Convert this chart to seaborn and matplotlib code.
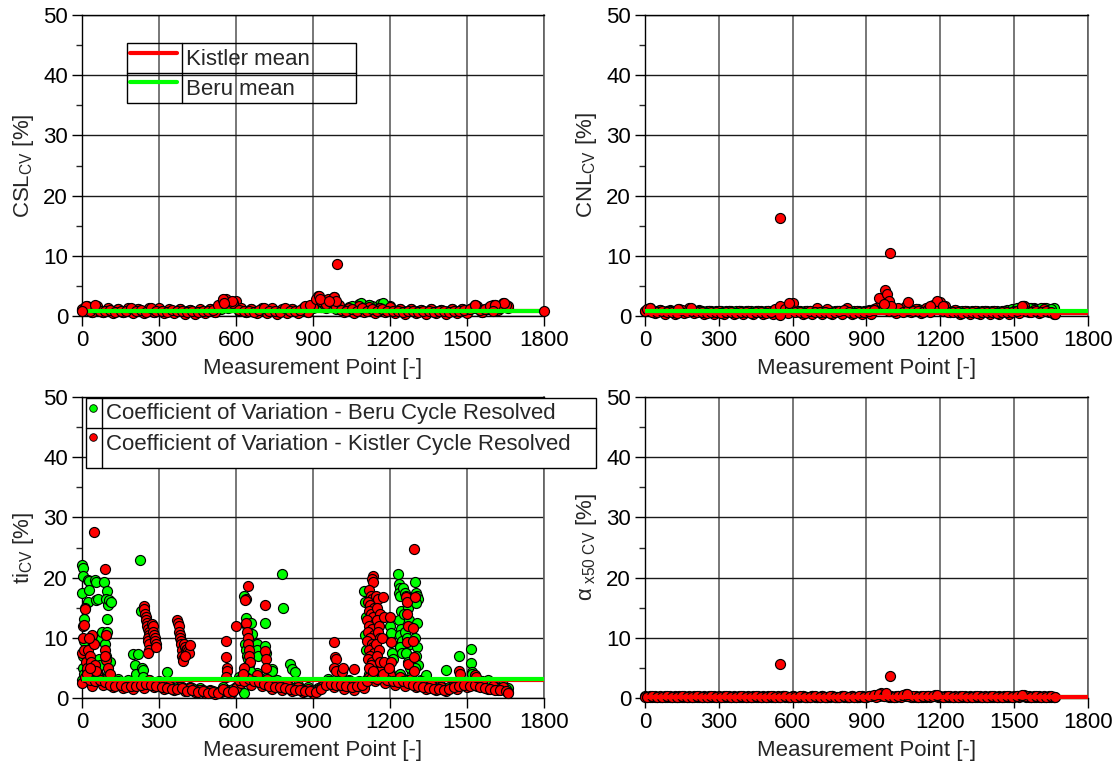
import numpy as np
import matplotlib
matplotlib.use("Agg")
import matplotlib.pyplot as plt
import seaborn as sns
from matplotlib.ticker import MultipleLocator
from matplotlib.patches import Rectangle
from matplotlib.lines import Line2D

sns.set_style("white")
plt.rcParams["font.family"] = ["Liberation Sans", "DejaVu Sans"]
plt.rcParams["mathtext.fontset"] = "custom"
plt.rcParams["mathtext.rm"] = "Liberation Sans"
plt.rcParams["mathtext.it"] = "Liberation Sans:italic"
plt.rcParams["mathtext.bf"] = "Liberation Sans:bold"

# ---------------- data ----------------
band_points = np.arange(0, 1661, 20)          # measurement points 0,20,...,1660
band_points2 = np.arange(10, 1661, 20)        # measurement points 10,30,...,1650
mean_x = [0, 1800]

# CSL_CV
csl_kistler_band = [1.2,1.7,0.6,1.6, 0.6,1.3,0.5,1.2,0.6,1.3,0.5,
    1.1,0.5,1.3,0.6,1.3,0.5,1.1,0.5,1.2,0.4, 1.0,0.4,1.1,0.5,1.2,0.6,1.5,
    2.8,2.2,2.5, 1.3,0.6,1.2,0.5,1.3, 0.5,1.3,0.4,1.1,0.5,1.2,0.5,1.4,0.6,
    1.5,3.3,2.2,2.8,3.1,1.9, 0.6,1.4,0.5,1.6,0.6,1.5,0.5,1.4,0.6,1.5,
    0.5,1.2,0.4,1.1,0.5,1.0,0.4,1.1,0.5,1.0, 0.4,1.1,0.5,1.2,0.5,1.3,1.6,0.6,
    1.3,1.9,1.0,2.2,1.6]
csl_kistler_band2 = [1.5,0.9,1.4, 0.9,0.8,1.0,0.7,0.9,0.8,1.4,
    0.8,1.0,0.7,1.3,0.8,0.9,0.7,1.0,0.8,0.9, 0.7,0.9,0.6,0.8,0.9,1.0,1.8,
    2.6,2.0,2.2, 1.0,0.8,0.9,0.7,1.0, 1.3,0.8,0.9,0.7,1.4,0.8,0.9,1.0,1.6,
    1.8,2.8,2.5,2.0,2.4,1.5, 1.0,0.9,1.2,0.8,1.3,0.9,1.1,0.8,1.2,0.9,
    0.8,0.9,0.7,0.8,0.9,0.7,0.8,0.9,0.7,0.8, 0.9,0.7,0.8,0.9,1.0,1.2,1.8,1.0,
    1.1,1.6,1.8,1.4,1.9]
csl_beru_band = [1.0,1.4,0.6,1.3, 0.7,1.2,0.6,1.1,0.7,1.2,0.6,
    1.1,0.6,1.2,0.7,1.1,0.6,1.0,0.6,1.1,0.5, 1.0,0.5,1.0,0.6,1.1,0.7,1.2,
    1.8,1.5,1.6, 1.2,0.7,1.1,0.6,1.2, 0.6,1.2,0.5,1.0,0.6,1.1,0.6,1.2,0.7,
    1.3,1.8,1.5,1.7,1.6,1.4, 0.8,1.5,0.9,2.0,1.0,1.8,1.1,2.0,0.9,1.6,
    0.6,1.2,0.6,1.1,0.6,1.0,0.5,1.1,0.6,1.0, 0.5,1.1,0.6,1.2,0.6,1.3,1.5,0.7,
    1.2,1.6,1.1,1.8,1.4]
csl_beru_band2 = [1.2,0.8,1.1, 0.9,0.8,0.9,0.8,0.9,0.8,1.0,
    0.8,0.9,0.8,1.0,0.8,0.9,0.8,0.9,0.8,0.9, 0.8,0.9,0.7,0.8,0.9,0.9,1.4,
    1.6,1.4,1.5, 0.9,0.8,0.9,0.8,0.9, 1.0,0.8,0.9,0.8,1.0,0.8,0.9,0.9,1.2,
    1.4,1.6,1.5,1.4,1.5,1.2, 1.2,1.0,1.6,1.2,1.9,1.3,1.7,1.2,1.8,1.1,
    0.9,0.8,0.9,0.8,0.9,0.8,0.9,0.8,0.9,0.8, 0.9,0.8,0.9,0.8,1.0,1.1,1.4,1.0,
    1.1,1.4,1.5,1.3,1.5]
csl_kistler_extra_x = [992, 550, 585, 554, 924, 927, 982, 989, 962, 14, 49, 1645, 1610, 1603, 1533]
csl_kistler_extra_y = [8.6, 2.8, 2.5, 2.2, 3.4, 2.8, 3.1, 2.5, 2.5, 1.7, 1.8, 2.2, 1.9, 0.8, 1.8]
csl_beru_extra_x = [1087, 1171, 1120]
csl_beru_extra_y = [2.1, 2.1, 1.9]
csl_means = {"Kistler": 0.85, "Beru": 0.85}

# CNL_CV
cnl_kistler_band = [0.8,1.4,0.5,1.0, 0.4,0.9,0.4,1.2,0.5,1.3,0.5,
    0.9,0.4,0.8,0.3,0.9,0.4,0.8,0.3,0.9,0.4, 0.8,0.3,0.9,0.4,0.8,0.3,1.0,
    1.3,0.5,2.1, 0.9,0.4,0.8,0.4,1.3, 0.4,1.1,0.3,0.8,0.4,1.3,0.4,0.9,0.3,
    0.8,0.3,1.4,2.4,1.8,1.2, 0.5,1.0,1.6,0.6,1.2,0.5,1.3,0.6,1.4,2.3,
    1.6,0.6,1.0,0.4,0.8,0.3,0.8,0.3,0.9,0.4, 0.8,0.3,0.8,0.4,0.9,0.5,1.6,0.6,
    1.0,0.5,1.1,0.6,0.4]
cnl_kistler_band2 = [1.1,0.7,0.6, 0.8,0.6,0.7,0.5,1.0,0.6,0.8,
    0.6,0.7,0.5,0.6,0.7,0.5,0.6,0.7,0.5,0.6, 0.6,0.5,0.7,0.6,0.5,0.7,1.1,
    1.6,1.2,1.4, 0.6,0.7,0.5,0.8,0.6, 0.7,0.6,0.5,0.6,0.8,1.0,0.6,0.5,0.6,
    0.6,0.8,1.0,3.0,1.3,0.8, 0.8,1.3,0.7,1.0,0.8,0.9,0.7,1.1,1.9,1.3,
    0.8,0.7,0.6,0.7,0.5,0.6,0.7,0.5,0.6,0.7, 0.6,0.5,0.7,0.6,0.7,0.8,1.2,0.8,
    0.7,0.8,0.7,0.9,0.7]
cnl_beru_band = [0.9,1.2,0.7,1.0, 0.6,1.0,0.6,1.0,0.6,1.0,0.6,
    1.0,0.6,0.9,0.5,0.9,0.6,0.9,0.5,0.9,0.6, 0.9,0.5,0.9,0.6,0.9,0.5,1.0,
    1.0,0.7,1.1, 0.9,0.6,0.9,0.6,1.0, 0.6,1.0,0.5,0.9,0.6,1.0,0.6,0.9,0.5,
    0.9,1.0,1.2,1.3,1.2,1.0, 0.7,1.1,1.2,0.8,1.1,0.7,1.1,0.8,1.2,1.3,
    1.1,0.7,1.0,0.6,0.9,0.5,0.9,0.5,0.9,0.6, 0.9,0.5,0.9,0.6,1.0,0.8,1.7,1.2,
    1.3,1.1,1.4,1.2,1.3]
cnl_beru_band2 = [1.0,0.9,0.8, 0.8,0.8,0.9,0.8,0.8,0.9,0.8,
    0.8,0.9,0.8,0.8,0.9,0.8,0.8,0.9,0.8,0.8, 0.8,0.9,0.8,0.8,0.9,0.8,0.9,
    0.9,0.8,0.9, 0.8,0.9,0.8,0.8,0.9, 0.8,0.9,0.8,0.8,0.9,0.8,0.8,0.9,0.8,
    0.9,1.0,1.1,1.2,1.1,1.0, 1.0,1.2,1.0,1.1,1.0,1.2,1.0,1.1,1.2,1.1,
    0.9,0.8,0.9,0.8,0.8,0.9,0.8,0.8,0.9,0.8, 0.9,0.8,0.9,1.0,1.1,1.3,1.5,1.3,
    1.4,1.2,1.3,1.4,1.2]
cnl_kistler_extra_x = [548, 994, 548, 977, 983, 991, 1001, 1067, 1187, 1211, 587, 22, 133, 187, 1665, 970, 1533, 1158]
cnl_kistler_extra_y = [16.3, 10.4, 0.2, 4.4, 3.7, 2.5, 1.7, 2.4, 2.5, 1.7, 2.1, 1.4, 1.2, 1.3, 0.3, 2.0, 1.7, 1.7]
cnl_beru_extra_x = [1535, 1560]
cnl_beru_extra_y = [1.6, 1.4]
cnl_means = {"Kistler": 0.5, "Beru": 0.75}

# ti_CV
ti_kistler_band = [2.5,4.5,2.0,3.8, 2.2,3.5,1.8,2.8,1.6,2.5,1.5,
    2.6,1.6,3.0,1.8,2.8,1.5,2.0,1.3,1.8,1.2, 1.6,1.0,1.4,0.8,1.2,0.7,1.0,
    1.2,0.8,1.6, 2.5,3.5,2.2,3.8,2.0, 3.2,1.5,2.5,1.3,2.2,1.2,1.8,1.0,1.5,
    0.9,1.3,2.0,2.8,1.8,3.0, 1.5,2.8,1.3,2.5,1.6,3.5,2.8,4.5,2.5,3.8,
    2.2,3.5,2.0,3.2,1.8,2.8,1.5,2.2,1.3,1.8, 1.2,1.8,1.5,2.4,1.8,2.6,2.0,2.5,
    1.5,2.0,1.3,1.8,1.0]
ti_kistler_band2 = [3.5,3.0,2.8, 3.0,2.6,2.2,2.0,2.2,1.8,2.0,
    2.0,2.2,2.4,2.2,2.0,1.8,1.6,1.5,1.5,1.6, 1.2,1.3,1.0,1.1,0.9,1.0,0.8,
    1.5,1.0,1.2, 3.0,2.8,3.2,2.8,2.6, 2.4,2.0,1.8,1.8,1.6,1.5,1.4,1.3,1.2,
    1.1,1.0,1.5,2.2,2.4,2.2, 2.2,2.0,1.8,2.0,2.2,2.8,3.5,3.2,3.6,3.0,
    2.8,2.6,2.8,2.5,2.2,2.0,1.8,1.6,1.5,1.5, 1.4,1.5,1.8,2.0,2.2,2.0,2.2,1.8,
    1.6,1.5,1.4,1.3,1.2]
ti_beru_band = [3.0,5.0,2.5,4.5, 2.8,4.0,2.2,3.2,2.0,3.0,2.2,
    3.5,2.0,3.0,2.0,2.5,1.8,2.2,1.5,2.0,1.5, 1.8,1.2,1.6,1.0,1.4,0.9,1.2,
    1.4,1.0,1.8, 3.0,4.0,2.8,4.2,2.5, 3.5,2.0,3.0,1.8,2.5,1.6,2.2,1.3,1.8,
    1.2,1.6,2.4,3.2,2.2,3.2, 1.8,3.0,1.6,2.8,2.0,4.0,3.2,5.0,3.0,4.2,
    2.8,4.0,2.6,3.6,2.2,3.0,1.8,2.5,1.6,2.0, 1.5,2.2,1.8,2.8,2.0,3.0,2.4,2.8,
    1.8,2.4,1.6,2.2,1.6]
ti_beru_band2 = [4.0,3.5,3.2, 3.4,3.0,2.6,2.4,2.5,2.2,2.6,
    2.5,2.8,3.0,2.6,2.4,2.2,2.0,1.8,1.8,1.9, 1.5,1.6,1.3,1.4,1.2,1.2,1.0,
    1.8,1.3,1.5, 3.5,3.2,3.6,3.2,3.0, 2.8,2.4,2.2,2.2,2.0,1.8,1.7,1.6,1.4,
    1.4,1.3,1.8,2.6,2.8,2.6, 2.6,2.4,2.2,2.4,2.6,3.2,4.0,3.8,4.2,3.6,
    3.2,3.0,3.2,3.0,2.6,2.4,2.2,2.0,1.8,1.8, 1.7,1.8,2.2,2.4,2.6,2.5,2.6,2.2,
    2.0,1.8,1.8,1.6,1.5]
ti_kistler_extra_x = [0,3,5,8,10,12,6,15,18,20, 25,30,35,40,45,50,55,28,33,
    47,91,95,90,92,100,110,88,
    240,243,246,248,250,252,255,258,260,262,258,256,260,262,258,
    272,275,278,280,283,286,288,290,
    372,374,376,378,380,382,384,386,388,390,392,394,
    398,402,406,410,414,418,420,400,
    560,562,565,563,560, 600,
    645,640,635,640,642,645,648,650,652,655,632,628,
    712,713,715,717, 982,985,988,980,990, 1012,1018,1060,
    1132,1128,1135,1120,1125,1130,1115,1122,1138,1118,1126,1134,1112,1140,1120,
    1130,1116,1136,1124,1110,1128,1132,1118,1138,1122,1114,1130,1126,1120,1134,
    1145,1155,1150,1160,1148,1158,1152,1162,1146,1156,1150,1160,
    1172,1175,1170,1178,1174, 1200,1202,1205,1198,
    1262,1268,1265,1270,1266,1272, 1293,1296,1290,1288,1294,1292,
    1470,1472,1530,1535,1660]
ti_kistler_extra_y = [7.5,10,12,12.2,15,14.8,8,6,5,4, 8,7,6,10.5,9,5.5,4.5,10,5,
    27.5,21.4,10.5,8,6.3,5,4,7,
    15.3,14.8,14,13.5,13,12.5,12,11.5,11,10.5,10,9.5,9,8,7.5,
    12.3,12,11,10.5,10,9.5,9,8.5,
    13,12.5,12,11,10.5,10,9.5,9,8,7,6.5,6.2,
    9,8.5,8,8.2,7.8,7.5,8.8,7,
    9.5,6.8,5,4.5,3.5, 11.9,
    18.6,16.5,16.3,12.5,11,10,9,8,7,6,5,4,
    15.5,7.8,6.5,5, 9.3,6.8,6.5,5,4.5, 4.3,5,4.8,
    20.2,19.8,19.2,18,17,16.5,16,15.5,15,14.5,14,13.5,13,12.5,12,
    11.5,11,10.5,10,9.5,9,8.5,8,7.5,7,6.5,6,5.5,5,4.5,
    17,16.5,15,14,13,12,11,10,9,8,7,6,
    16.8,13.5,10,6,4, 13.5,9.3,6,5,
    16.7,16,14,12,9.3,5.7, 24.8,16.8,11.7,9.4,6.8,4.5,
    4.5,4,3.8,3.5,0.9]
ti_beru_extra_x = [0,2,4,1,6,8,3,5,7, 22,26,24,28, 51,53,55, 62,66,70,75,78,
    86,99,95,102,99,92,96,90,94, 106,112,110,
    200,205,210,218, 226,228, 234,238,236, 330,
    630,638,642,646,650,654,636,640,644,648,652,656,660,664,
    680,682,684, 712,714,716, 740,742, 780,782, 812,820,828,
    1100,1104,1106,1102,1108, 1135,1140,1145,1150,1155,1160,
    1200,1205,1208,1210,
    1232,1236,1240,1234,1238,1242,1236,1244,1240,1246,1238,1248,
    1252,1258,1262,1266,1270,1256,1274,1260,1268,1276,1264,1272,1278,
    1296,1300,1304,1308,1302,1306,1298,1304,1300,1308,1296,
    1340,1420,1470,1515,1517,1520,1518,1580,630]
ti_beru_extra_y = [22.1,21.6,20.3,17.5,13.2,9.5,7,5,4, 19.6,19.5,16,18, 19.6,19.3,16.2, 16.5,6.5,5.5,10,11,
    19.3,17.8,16.5,15.5,13.2,10.5,11,9,7, 16.2,16,6,
    7.3,5.5,4,7.3, 23.0,14.5, 5,4.6,3.5, 4.3,
    17,13.3,12,11,10,9.5,9,8,7,6.5,5.5,4.5,12.5,10.7,
    9,8,7, 12.4,8.6,7.4, 4.8,4.5, 20.6,15, 5.6,4.8,4.3,
    17.8,16,13.5,10.5,8, 15,14,12,10,8,6,
    12,10.8,7.5,6.5,
    20.6,19,18.3,17.5,17,14.5,13,11.5,10.5,9.5,8.5,7.5,
    18.3,17.5,17,16,15,14,13,11,10,9,7.5,6,5,
    19.3,17.5,17,16.5,15.8,12.5,10,8.5,7,5.5,5,
    3.8,4.7,7,8.1,5.8,4.4,4,3,0.8]
ti_means = {"Kistler": 3.0, "Beru": 3.2}

# alpha_x50_CV
alpha_kistler_band = [0.2,0.35,0.1,0.3, 0.1,0.3,0.1,0.35,0.1,0.3,0.1,
    0.3,0.1,0.3,0.1,0.3,0.1,0.3,0.1,0.3,0.1, 0.3,0.1,0.3,0.1,0.3,0.1,0.35,
    0.3,0.1,0.35, 0.1,0.3,0.1,0.3,0.1, 0.3,0.1,0.3,0.1,0.3,0.1,0.3,0.1,0.3,
    0.1,0.3,0.2,0.8,0.4,0.2, 0.35,0.1,0.7,0.2,0.35,0.1,0.3,0.1,0.45,0.2,
    0.3,0.1,0.3,0.1,0.3,0.1,0.3,0.1,0.3,0.1, 0.3,0.1,0.3,0.1,0.3,0.1,0.45,0.2,
    0.3,0.1,0.3,0.1,0.2]
alpha_kistler_band2 = [0.2,0.25,0.2, 0.2,0.25,0.2,0.2,0.25,0.2,0.2,
    0.25,0.2,0.2,0.25,0.2,0.2,0.25,0.2,0.2,0.25, 0.2,0.2,0.25,0.2,0.2,0.25,0.2,
    0.2,0.25,0.2, 0.2,0.25,0.2,0.2,0.25, 0.2,0.2,0.25,0.2,0.2,0.25,0.2,0.2,0.25,
    0.2,0.25,0.5,0.6,0.3,0.25, 0.2,0.4,0.5,0.3,0.25,0.2,0.3,0.35,0.3,0.25,
    0.2,0.25,0.2,0.2,0.25,0.2,0.2,0.25,0.2,0.2, 0.25,0.2,0.2,0.25,0.2,0.3,0.35,0.25,
    0.2,0.25,0.2,0.2,0.25]
alpha_beru_band = [0.25,0.15,0.25,0.15, 0.25,0.15,0.25,0.15,0.25,0.15,0.25,
    0.15,0.25,0.15,0.25,0.15,0.25,0.15,0.25,0.15,0.25, 0.15,0.25,0.15,0.25,0.15,0.25,0.15,
    0.25,0.15,0.25, 0.15,0.25,0.15,0.25,0.15, 0.25,0.15,0.25,0.15,0.25,0.15,0.25,0.15,0.25,
    0.15,0.25,0.3,0.5,0.3,0.25, 0.15,0.25,0.4,0.25,0.15,0.25,0.15,0.25,0.3,0.25,
    0.15,0.25,0.15,0.25,0.15,0.25,0.15,0.25,0.15,0.25, 0.15,0.25,0.15,0.25,0.15,0.25,0.35,0.25,
    0.15,0.25,0.15,0.25,0.15]
alpha_beru_band2 = [0.2,0.2,0.2, 0.2,0.2,0.2,0.2,0.2,0.2,0.2,
    0.2,0.2,0.2,0.2,0.2,0.2,0.2,0.2,0.2,0.2, 0.2,0.2,0.2,0.2,0.2,0.2,0.2,
    0.2,0.2,0.2, 0.2,0.2,0.2,0.2,0.2, 0.2,0.2,0.2,0.2,0.2,0.2,0.2,0.2,0.2,
    0.2,0.3,0.4,0.4,0.3,0.2, 0.2,0.3,0.4,0.3,0.2,0.2,0.2,0.3,0.3,0.2,
    0.2,0.2,0.2,0.2,0.2,0.2,0.2,0.2,0.2,0.2, 0.2,0.2,0.2,0.2,0.2,0.3,0.3,0.2,
    0.2,0.2,0.2,0.2,0.2]
alpha_kistler_extra_x = [548, 994, 980, 1064, 1187, 1533, 1665]
alpha_kistler_extra_y = [5.7, 3.6, 0.8, 0.7, 0.45, 0.45, 0.2]
alpha_beru_extra_x = []
alpha_beru_extra_y = []
alpha_means = {"Kistler": 0.2, "Beru": 0.2}

x_ticks = [0, 300, 600, 900, 1200, 1500, 1800]
y_ticks = [0, 10, 20, 30, 40, 50]
RED = "#FF0000"
GREEN = "#00FF00"
FS = 16

# ---------------- figure ----------------
fig = plt.figure(figsize=(11.2, 7.69), dpi=100)
W, H = 1120, 769
def axes_px(x0, x1, ytop, ybot):
    return fig.add_axes([x0 / W, 1 - ybot / H, (x1 - x0) / W, (ybot - ytop) / H])

ax_csl = axes_px(82, 544, 15, 316)
ax_cnl = axes_px(645, 1088, 15, 316)
ax_ti = axes_px(82, 544, 397, 698)
ax_alpha = axes_px(645, 1088, 397, 698)


def scatter(ax, xs, ys, color, z):
    if len(xs) == 0:
        return
    sns.scatterplot(x=np.asarray(xs, float), y=np.asarray(ys, float), ax=ax, color=color,
                    edgecolor="black", linewidth=0.85, s=52, legend=False,
                    clip_on=False, zorder=z)


def mean_line(ax, value, color, z):
    sns.lineplot(x=mean_x, y=[value, value], ax=ax, color=color, linewidth=3.0,
                 legend=False, zorder=z, clip_on=False, solid_capstyle="butt")


def panel(ax, kb, kb2, bb, bb2, kex, key, bex, bey, means, ylabel, red_top=False, end_marks=False):
    scatter(ax, list(band_points) + list(band_points2) + list(bex),
            list(bb) + list(bb2) + list(bey), GREEN, 3)
    scatter(ax, list(band_points) + list(band_points2) + list(kex),
            list(kb) + list(kb2) + list(key), RED, 4)
    if red_top:
        mean_line(ax, means["Beru"], GREEN, 5)
        mean_line(ax, means["Kistler"], RED, 6)
    else:
        mean_line(ax, means["Kistler"], RED, 5)
        mean_line(ax, means["Beru"], GREEN, 6)
    if end_marks:
        scatter(ax, mean_x, [means["Kistler"]] * 2, RED, 7)
    ax.set_xlim(0, 1800)
    ax.set_ylim(0, 50)
    ax.set_xticks(x_ticks)
    ax.set_yticks(y_ticks)
    ax.yaxis.set_minor_locator(MultipleLocator(5))
    ax.set_axisbelow(True)
    ax.xaxis.grid(True, color="#606060", linewidth=1.2)
    ax.yaxis.grid(True, color="#1a1a1a", linewidth=1.0)
    ax.tick_params(axis="both", which="major", direction="out", length=7, width=1,
                   labelsize=FS, pad=3, colors="black", bottom=True, left=True)
    ax.tick_params(axis="y", which="minor", direction="out", length=4, width=1, left=True)
    for side in ["left", "bottom", "top"]:
        ax.spines[side].set_color("black")
        ax.spines[side].set_linewidth(1.0)
    ax.spines["right"].set_color("#606060")
    ax.spines["right"].set_linewidth(1.2)
    ax.set_xlabel("Measurement Point [-]", fontsize=FS, labelpad=5)
    ax.set_ylabel(ylabel, fontsize=FS, labelpad=5)


panel(ax_csl, csl_kistler_band, csl_kistler_band2, csl_beru_band, csl_beru_band2,
      csl_kistler_extra_x, csl_kistler_extra_y, csl_beru_extra_x, csl_beru_extra_y,
      csl_means, r"CSL$_{\mathrm{CV}}$ [%]", end_marks=True)
panel(ax_cnl, cnl_kistler_band, cnl_kistler_band2, cnl_beru_band, cnl_beru_band2,
      cnl_kistler_extra_x, cnl_kistler_extra_y, cnl_beru_extra_x, cnl_beru_extra_y,
      cnl_means, r"CNL$_{\mathrm{CV}}$ [%]")
panel(ax_ti, ti_kistler_band, ti_kistler_band2, ti_beru_band, ti_beru_band2,
      ti_kistler_extra_x, ti_kistler_extra_y, ti_beru_extra_x, ti_beru_extra_y,
      ti_means, r"ti$_{\mathrm{CV}}$ [%]")
panel(ax_alpha, alpha_kistler_band, alpha_kistler_band2, alpha_beru_band, alpha_beru_band2,
      alpha_kistler_extra_x, alpha_kistler_extra_y, alpha_beru_extra_x, alpha_beru_extra_y,
      alpha_means, r"α$_{\mathrm{\ x50\ CV}}$ [%]", red_top=True)

# ---------------- legends (table style) ----------------
def tline(ax, xs, ys, **kw):
    ax.add_line(Line2D(xs, ys, transform=ax.transAxes, clip_on=False, **kw))

# top-left: mean lines
ax = ax_csl
x0, x1, xd, y0, y1, yd = 0.0967, 0.5926, 0.2169, 0.7073, 0.906, 0.8066
ax.add_patch(Rectangle((x0, y0), x1 - x0, y1 - y0, transform=ax.transAxes, fill=False,
                       edgecolor="black", linewidth=1.0, zorder=10, clip_on=False))
tline(ax, [x0, x1], [yd, yd], color="black", linewidth=1.0, zorder=10)
tline(ax, [xd, xd], [y0, y1], color="black", linewidth=1.0, zorder=10)
tline(ax, [0.104, 0.206], [0.875, 0.875], color=RED, linewidth=3.0, zorder=10)
tline(ax, [0.104, 0.206], [0.776, 0.776], color=GREEN, linewidth=3.0, zorder=10)
ax.text(0.226, 0.853, "Kistler mean", transform=ax.transAxes, fontsize=FS, va="center", zorder=10)
ax.text(0.226, 0.754, "Beru mean", transform=ax.transAxes, fontsize=FS, va="center", zorder=10)

# bottom-left: scatter series
ax = ax_ti
x0, x1, xd, y0, y1, yd = 0.0093, 1.1128, 0.0443, 0.765, 0.9977, 0.897
ax.add_patch(Rectangle((x0, y0), x1 - x0, y1 - y0, transform=ax.transAxes, facecolor="white",
                       edgecolor="black", linewidth=1.0, zorder=10, clip_on=False))
tline(ax, [x0, x1], [yd, yd], color="black", linewidth=1.0, zorder=11)
tline(ax, [xd, xd], [y0, y1], color="black", linewidth=1.0, zorder=11)
ax.scatter([0.0247], [0.9645], s=30, color=GREEN, edgecolor="black", linewidth=0.6,
           transform=ax.transAxes, zorder=12, clip_on=False)
ax.scatter([0.0247], [0.867], s=30, color=RED, edgecolor="black", linewidth=0.6,
           transform=ax.transAxes, zorder=12, clip_on=False)
ax.text(0.0518, 0.945, "Coefficient of Variation - Beru Cycle Resolved", transform=ax.transAxes,
        fontsize=FS, va="center", zorder=12)
ax.text(0.0518, 0.843, "Coefficient of Variation - Kistler Cycle Resolved", transform=ax.transAxes,
        fontsize=FS, va="center", zorder=12)

fig.savefig("out.png", dpi=100)
